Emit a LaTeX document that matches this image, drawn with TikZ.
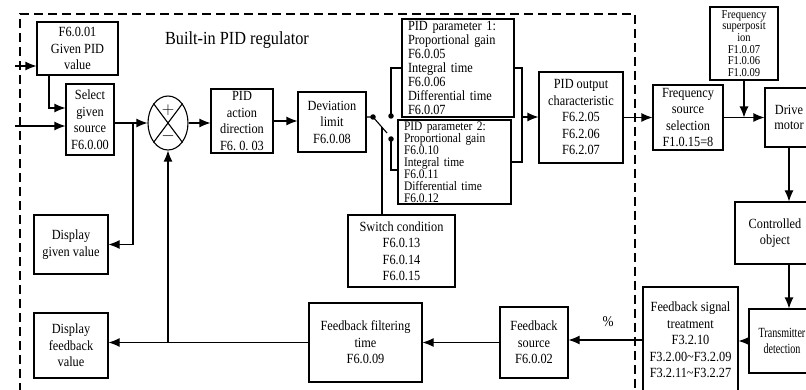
\documentclass[tikz,border=0pt]{standalone}
\usepackage{fontspec}
\setmainfont{Liberation Serif}[FakeStretch=0.88]
\newfontfamily\narrowfont{Liberation Serif}[FakeStretch=0.72]
\usetikzlibrary{arrows.meta, shapes.geometric, calc}

\tikzset{
  blk/.style={draw, line width=1.1pt, align=center, inner sep=1pt,
              font=\fontsize{14}{16.5}\selectfont},
  parbox/.style={blk, align=left, inner xsep=6pt, inner ysep=0pt},
  wire/.style={line width=1.1pt},
  arr/.style={line width=1.1pt, -{Latex[length=11pt,width=9pt]}},
  dot/.style={fill, circle, inner sep=0pt, minimum size=5.5pt},
  sign/.style={font=\fontsize{19}{19}\selectfont, inner sep=0pt},
}

\begin{document}
\begin{tikzpicture}[x=1pt, y=-1pt]
\useasboundingbox (0,0) rectangle (806,390);

% dashed frame of the regulator
\draw[line width=1.1pt, dash pattern=on 9pt off 5pt]
  (20,392) -- (20,14) -- (635,14) -- (635,392);
\node[font=\fontsize{18.5}{20}\selectfont] (title) at (237,40) {Built-in PID regulator};

% set point side
\node[blk, minimum width=81, minimum height=53] (given) at (77.5,48.5) {F6.0.01\\Given PID\\value};
\node[blk, minimum width=48, minimum height=71] (select) at (90,119.5) {Select\\given\\source\\F6.0.00};
\node[draw, ellipse, line width=1.1pt, minimum width=40, minimum height=54] (sum) at (168,123) {};
\draw[wire] (sum.north west) -- (sum.south east) (sum.north east) -- (sum.south west);
\node[sign] (plus) at ([yshift=13pt]sum.center) {$+$};
\node[sign] (minus) at ([yshift=-13pt]sum.center) {$-$};
\node[blk, minimum width=74, minimum height=59] (dispgv) at (71,244.5) {Display\\given value};
\node[blk, minimum width=74, minimum height=65] (dispfb) at (71,345.5) {Display\\feedback\\value};

% forward path
\node[blk, minimum width=62, minimum height=64] (action) at (242,121) {PID\\action\\direction\\F6.\ 0.\ 03};
\node[blk, minimum width=68, minimum height=60] (dev) at (332,122) {Deviation\\limit\\F6.0.08};
\node[parbox, text width=100, minimum height=98, font=\fontsize{14}{14}\selectfont] (par1) at (458,68)
  {PID parameter 1:\\Proportional gain\\F6.0.05\\Integral time\\F6.0.06\\Differential time\\F6.0.07};
\node[parbox, text width=101, minimum height=84, font=\fontsize{13}{12}\selectfont] (par2) at (454.5,162)
  {PID parameter 2:\\Proportional gain\\F6.0.10\\Integral time\\F6.0.11\\Differential time\\F6.0.12};
\node[blk, minimum width=107, minimum height=72] (cond) at (401.5,251) {Switch condition\\F6.0.13\\F6.0.14\\F6.0.15};
\node[blk, minimum width=84, minimum height=91] (out) at (581,117.5) {PID output\\characteristic\\F6.2.05\\F6.2.06\\F6.2.07};

% plant side
\node[blk, minimum width=70, minimum height=65] (src) at (688,117.5) {Frequency\\source\\selection\\F1.0.15=8};
\node[blk, minimum width=68, minimum height=73, font=\fontsize{12}{11.6}\selectfont] (sup) at (744,43.5)
  {Frequency\\superposit\\ion\\F1.0.07\\F1.0.06\\F1.0.09};
\node[blk, minimum width=48, minimum height=59, font=\fontsize{14}{15}\selectfont] (motor) at (789,117.5) {Drive\\motor};
\node[blk, minimum width=80, minimum height=62] (ctrl) at (775,233) {Controlled\\object};
\node[blk, minimum width=66, minimum height=64, font=\narrowfont\fontsize{14}{16}\selectfont] (trans) at (782,341) {Transmitter\\detection};

% feedback path
\node[blk, minimum width=95, minimum height=106] (fst) at (690.5,340)
  {Feedback signal\\treatment\\F3.2.10\\F3.2.00\textasciitilde F3.2.09\\F3.2.11\textasciitilde F3.2.27};
\node[blk, minimum width=68, minimum height=71] (fbsrc) at (534,342.5) {Feedback\\source\\F6.0.02};
\node[blk, minimum width=113, minimum height=79] (filt) at (365.5,342.5) {Feedback filtering\\time\\F6.0.09};
\node[font=\fontsize{15}{15}\selectfont] (pct) at (608,322) {\%};

% inputs and set point wiring
\coordinate (in1) at (15,66);
\coordinate (in2) at (15,126);
\draw[arr] (in1) -- (in1 -| given.west);
\draw[arr] (in2) -- (in2 -| select.west);
\draw[arr] ([xshift=-28.5pt]given.south) |- ([yshift=11.5pt]select.west);
\draw[arr] (select.east |- sum.west) -- (sum.west);
\coordinate (gj) at ($(select.east |- sum.west)!0.56!(sum.west)$);
\draw[arr] (gj) |- (dispgv.east);
\draw[arr] (sum.east) -- (sum.east -| action.west);
\draw[arr] (action.east) -- (action.east -| dev.west);

% parameter switch
\coordinate (sw) at (373,117);
\coordinate (c1) at (391,116);
\coordinate (c2) at (391,139);
\coordinate (bl) at (387,133);
\coordinate (bm) at ($(sw)!0.64!(bl)$);
\draw[wire] (dev.east |- sw) -- (sw) -- (bl);
\node[dot] (swdot) at (sw) {};
\node[dot] (c1dot) at (c1) {};
\node[dot] (c2dot) at (c2) {};
\draw[wire] (c1) |- (par1.west);
\draw[wire] (c2) |- ([yshift=-8pt]par2.west);
\draw[wire] (bm) -- (bm |- cond.north);
\coordinate (jr) at (522,117);
\draw[wire] (par1.east) -| (jr) |- (par2.east);
\draw[arr] (jr) -- (jr -| out.west);

% towards the motor
\draw[arr] (out.east) -- (src.west);
\draw[arr] (src.east) -- (motor.west);
\draw[arr] (sup.south) -- (sup.south |- src.east);
\draw[arr] (motor.south) -- (motor.south |- ctrl.north);
\draw[arr] (ctrl.south -| motor.south) -- (motor.south |- trans.north);

% back to the summing point
\draw[arr] (trans.west) -- (trans.west -| fst.east);
\draw[arr] (fst.west) -- (fst.west -| fbsrc.east);
\draw[arr] (fbsrc.west) -- (fbsrc.west -| filt.east);
\draw[arr] (filt.west) -- (filt.west -| dispfb.east);
\coordinate (fbj) at (sum.south |- filt.west);
\draw[arr] (fbj) -- (sum.south);
\end{tikzpicture}
\end{document}
